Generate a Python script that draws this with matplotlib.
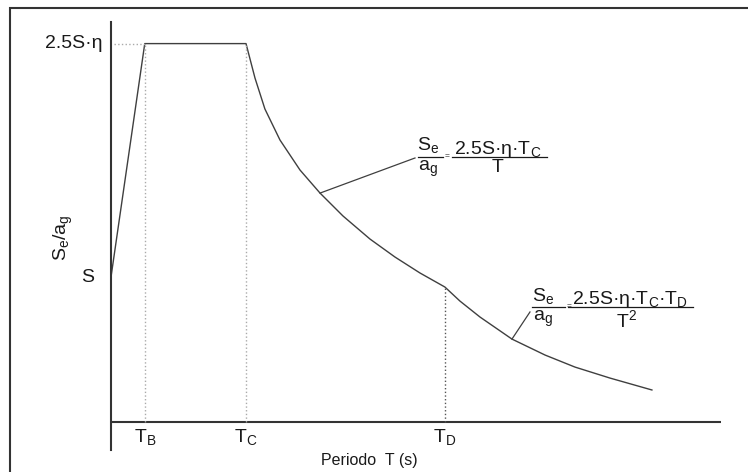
import matplotlib
matplotlib.use('Agg')
import matplotlib.pyplot as plt
from matplotlib.patches import Rectangle

plt.rcParams['font.family'] = ['Liberation Sans', 'DejaVu Sans']
plt.rcParams['mathtext.fontset'] = 'custom'
plt.rcParams['mathtext.rm'] = 'Liberation Sans'
plt.rcParams['mathtext.it'] = 'Liberation Sans'
plt.rcParams['mathtext.sf'] = 'Liberation Sans'

# periodos caracteristicos (s)
TB = 0.15
TC = 0.60
TD = 1.484
S = 1.0
PLATEAU = 2.61   # 2.5*S*eta

# espectro elastico Se/ag
periodo = [0.0, TB, TC, 0.64, 0.684, 0.751, 0.84, 0.929, 1.031, 1.151, 1.262, 1.373, TD,
           1.551, 1.64, 1.782, 1.929, 2.062, 2.218, 2.404]
se_ag = [S, PLATEAU, PLATEAU, 2.372, 2.159, 1.945, 1.738, 1.579, 1.421, 1.262, 1.138, 1.028, 0.931,
         0.834, 0.724, 0.572, 0.462, 0.379, 0.303, 0.221]

TXT = '#1a1a1a'
LIN = '#3f3f3f'

fig = plt.figure(figsize=(7.48, 4.72), dpi=100)
ax = fig.add_axes([0.1484, 0.0466, 0.8155, 0.9068])
ax.set_xlim(0, 2.711)
ax.set_ylim(-0.193, 2.759)

for s in ['top', 'right', 'bottom']:
    ax.spines[s].set_visible(False)
ax.spines['left'].set_color('#333333')
ax.spines['left'].set_linewidth(1.5)
ax.set_xticks([])
ax.set_yticks([])
ax.axhline(0, color='#333333', lw=1.5)

# marco exterior
fig.add_artist(Rectangle((0.0134, -0.1), 1.2, 1.083, transform=fig.transFigure,
                         fill=False, edgecolor='#333333', lw=1.5))

# curva
ax.plot(periodo, se_ag, color=LIN, lw=1.0)

# lineas auxiliares
ax.plot([0.013, TB], [PLATEAU, PLATEAU], color='#aaaaaa', ls=':', lw=1.0)
ax.plot([TB, TB], [0, PLATEAU], color='#aaaaaa', ls=':', lw=1.0)
ax.plot([TC, TC], [0, PLATEAU], color='#aaaaaa', ls=':', lw=1.0)
ax.plot([TD, TD], [0, se_ag[periodo.index(TD)]], color='#555555', ls=':', lw=1.0)

fs = 14
ax.text(-0.036, PLATEAU, '2.5S·η', ha='right', va='center', fontsize=fs, color=TXT)
ax.text(-0.102, S, 'S', ha='center', va='center', fontsize=fs, color=TXT)
ax.text(-0.213, 1.269, r'S$_\mathrm{e}$/a$_\mathrm{g}$', ha='center', va='center',
        rotation=90, fontsize=fs, color=TXT)

for t, lab in [(TB, 'B'), (TC, 'C'), (TD, 'D')]:
    ax.text(t, -0.103, 'T$_\\mathrm{' + lab + '}$', ha='center', va='center', fontsize=fs, color=TXT)
ax.text(1.147, -0.262, 'Periodo  T (s)', ha='center', va='center', fontsize=11.5, color=TXT)


def formula(x_se, x_bar1, x_bar2, y, num, den, x_num, x_den):
    ax.text(x_se, y + 0.045, r'S$_\mathrm{e}$', ha='center', va='baseline', fontsize=fs, color=TXT)
    ax.text(x_se, y - 0.015, r'a$_\mathrm{g}$', ha='center', va='top', fontsize=fs, color=TXT)
    ax.plot(x_bar1, [y, y], color=TXT, lw=0.9)
    ax.text(x_bar1[1] + 0.017, y, '=', ha='center', va='center', fontsize=6, color=TXT)
    ax.plot(x_bar2, [y, y], color=TXT, lw=0.9)
    ax.text(x_num, y + 0.02, num, ha='center', va='baseline', fontsize=fs, color=TXT)
    ax.text(x_den, y - 0.015, den, ha='center', va='top', fontsize=fs, color=TXT)


formula(1.409, [1.364, 1.476], [1.516, 1.938], 1.828,
        r'2.5S·η·T$_\mathrm{C}$', 'T', 1.72, 1.72)
ax.plot([0.929, 1.351], [1.579, 1.821], color=LIN, lw=0.9)

formula(1.92, [1.871, 2.018], [2.031, 2.587], 0.793,
        r'2.5S·η·T$_\mathrm{C}$·T$_\mathrm{D}$', r'T$^2$', 2.307, 2.293)
ax.plot([1.782, 1.862], [0.572, 0.759], color=LIN, lw=0.9)

fig.savefig('out.png', dpi=100)
